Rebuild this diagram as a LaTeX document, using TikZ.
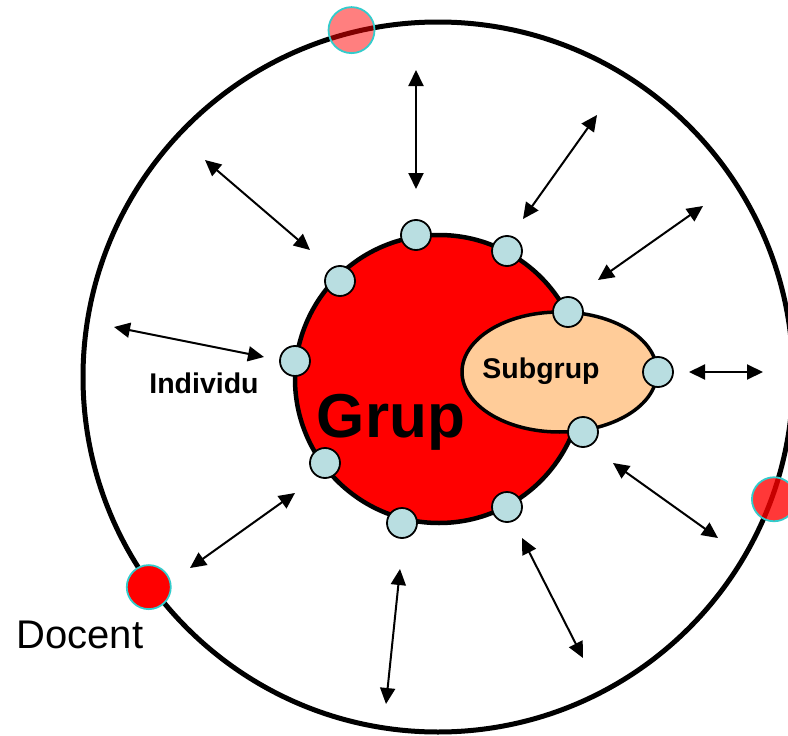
\documentclass[tikz,border=0pt]{standalone}
\usepackage{fontspec}
\setmainfont{Liberation Sans}
\usepackage{xcolor}
\usepackage{tikz}
\usetikzlibrary{arrows.meta,shapes.geometric}
\definecolor{membre}{RGB}{185,222,225}
\definecolor{pell}{RGB}{255,204,153}
\definecolor{vora}{RGB}{51,204,204}

\begin{document}
\begin{tikzpicture}[x=1pt,y=-1pt,
	individu/.style={circle,draw,line width=1.8pt,fill=membre,minimum size=30pt,inner sep=0pt},
	docent/.style={circle,draw=vora,line width=1.8pt,fill=red,minimum size=44pt,inner sep=0pt},
	relacio/.style={{Triangle[length=16pt,width=15pt]}-{Triangle[length=16pt,width=15pt]},line width=2pt},
	etiqueta/.style={anchor=base,inner sep=0pt}]
		\useasboundingbox (0,0) rectangle (788,736);
		\node[circle,draw,line width=5pt,minimum size=710pt,inner sep=0pt] (aula) at (438,377) {};
		\node[circle,draw,line width=4.5pt,fill=red,minimum size=288pt,inner sep=0pt] (grup) at (439,379) {};
		\node[ellipse,draw,line width=3.5pt,fill=pell,minimum width=195pt,minimum height=120pt,inner sep=0pt] (subgrup) at (559.5,372) {};
		% membres del grup
		\foreach \i/\p in {1/{416,235},2/{507,251},3/{340,281},4/{568,312},5/{295,361},
			6/{658,372},7/{583,432},8/{325,463},9/{507,507},10/{402,523}}
			\node[individu] (m\i) at (\p) {};
		\node[etiqueta] (tgrup) at (391,437) {\fontsize{62}{62}\selectfont\bfseries Grup};
		\node[etiqueta] (tsub) at (541,378) {\fontsize{28.5}{28.5}\selectfont\bfseries Subgrup};
		\node[etiqueta] (tind) at (204,393) {\fontsize{28.5}{28.5}\selectfont\bfseries Individu};
		% docents
		\node[docent] (d1) at (aula.216.5) {};
		\node[docent,fill opacity=0.5,minimum size=46pt] (d2) at (aula.104.6) {};
		\node[docent,fill opacity=0.78] (d3) at (aula.-20.3) {};
		\node[etiqueta] (tdoc) at (80,648) {\fontsize{40}{40}\selectfont Docent};
		% relacions
		\foreach \i/\p/\q in {1/{416,70}/{416,189},2/{597,115}/{523,219},3/{205,160}/{310,250},
			4/{703,206}/{598,280},5/{114,327}/{264,357},6/{689,372}/{763,372},
			7/{613,463}/{718,538},8/{295,493}/{190,568},9/{522,538}/{583,658},10/{400,569}/{386,704}}
		{
			\coordinate (r\i a) at (\p);
			\coordinate (r\i b) at (\q);
			\draw[relacio] (r\i a) -- (r\i b);
		}
	\end{tikzpicture}
\end{document}
